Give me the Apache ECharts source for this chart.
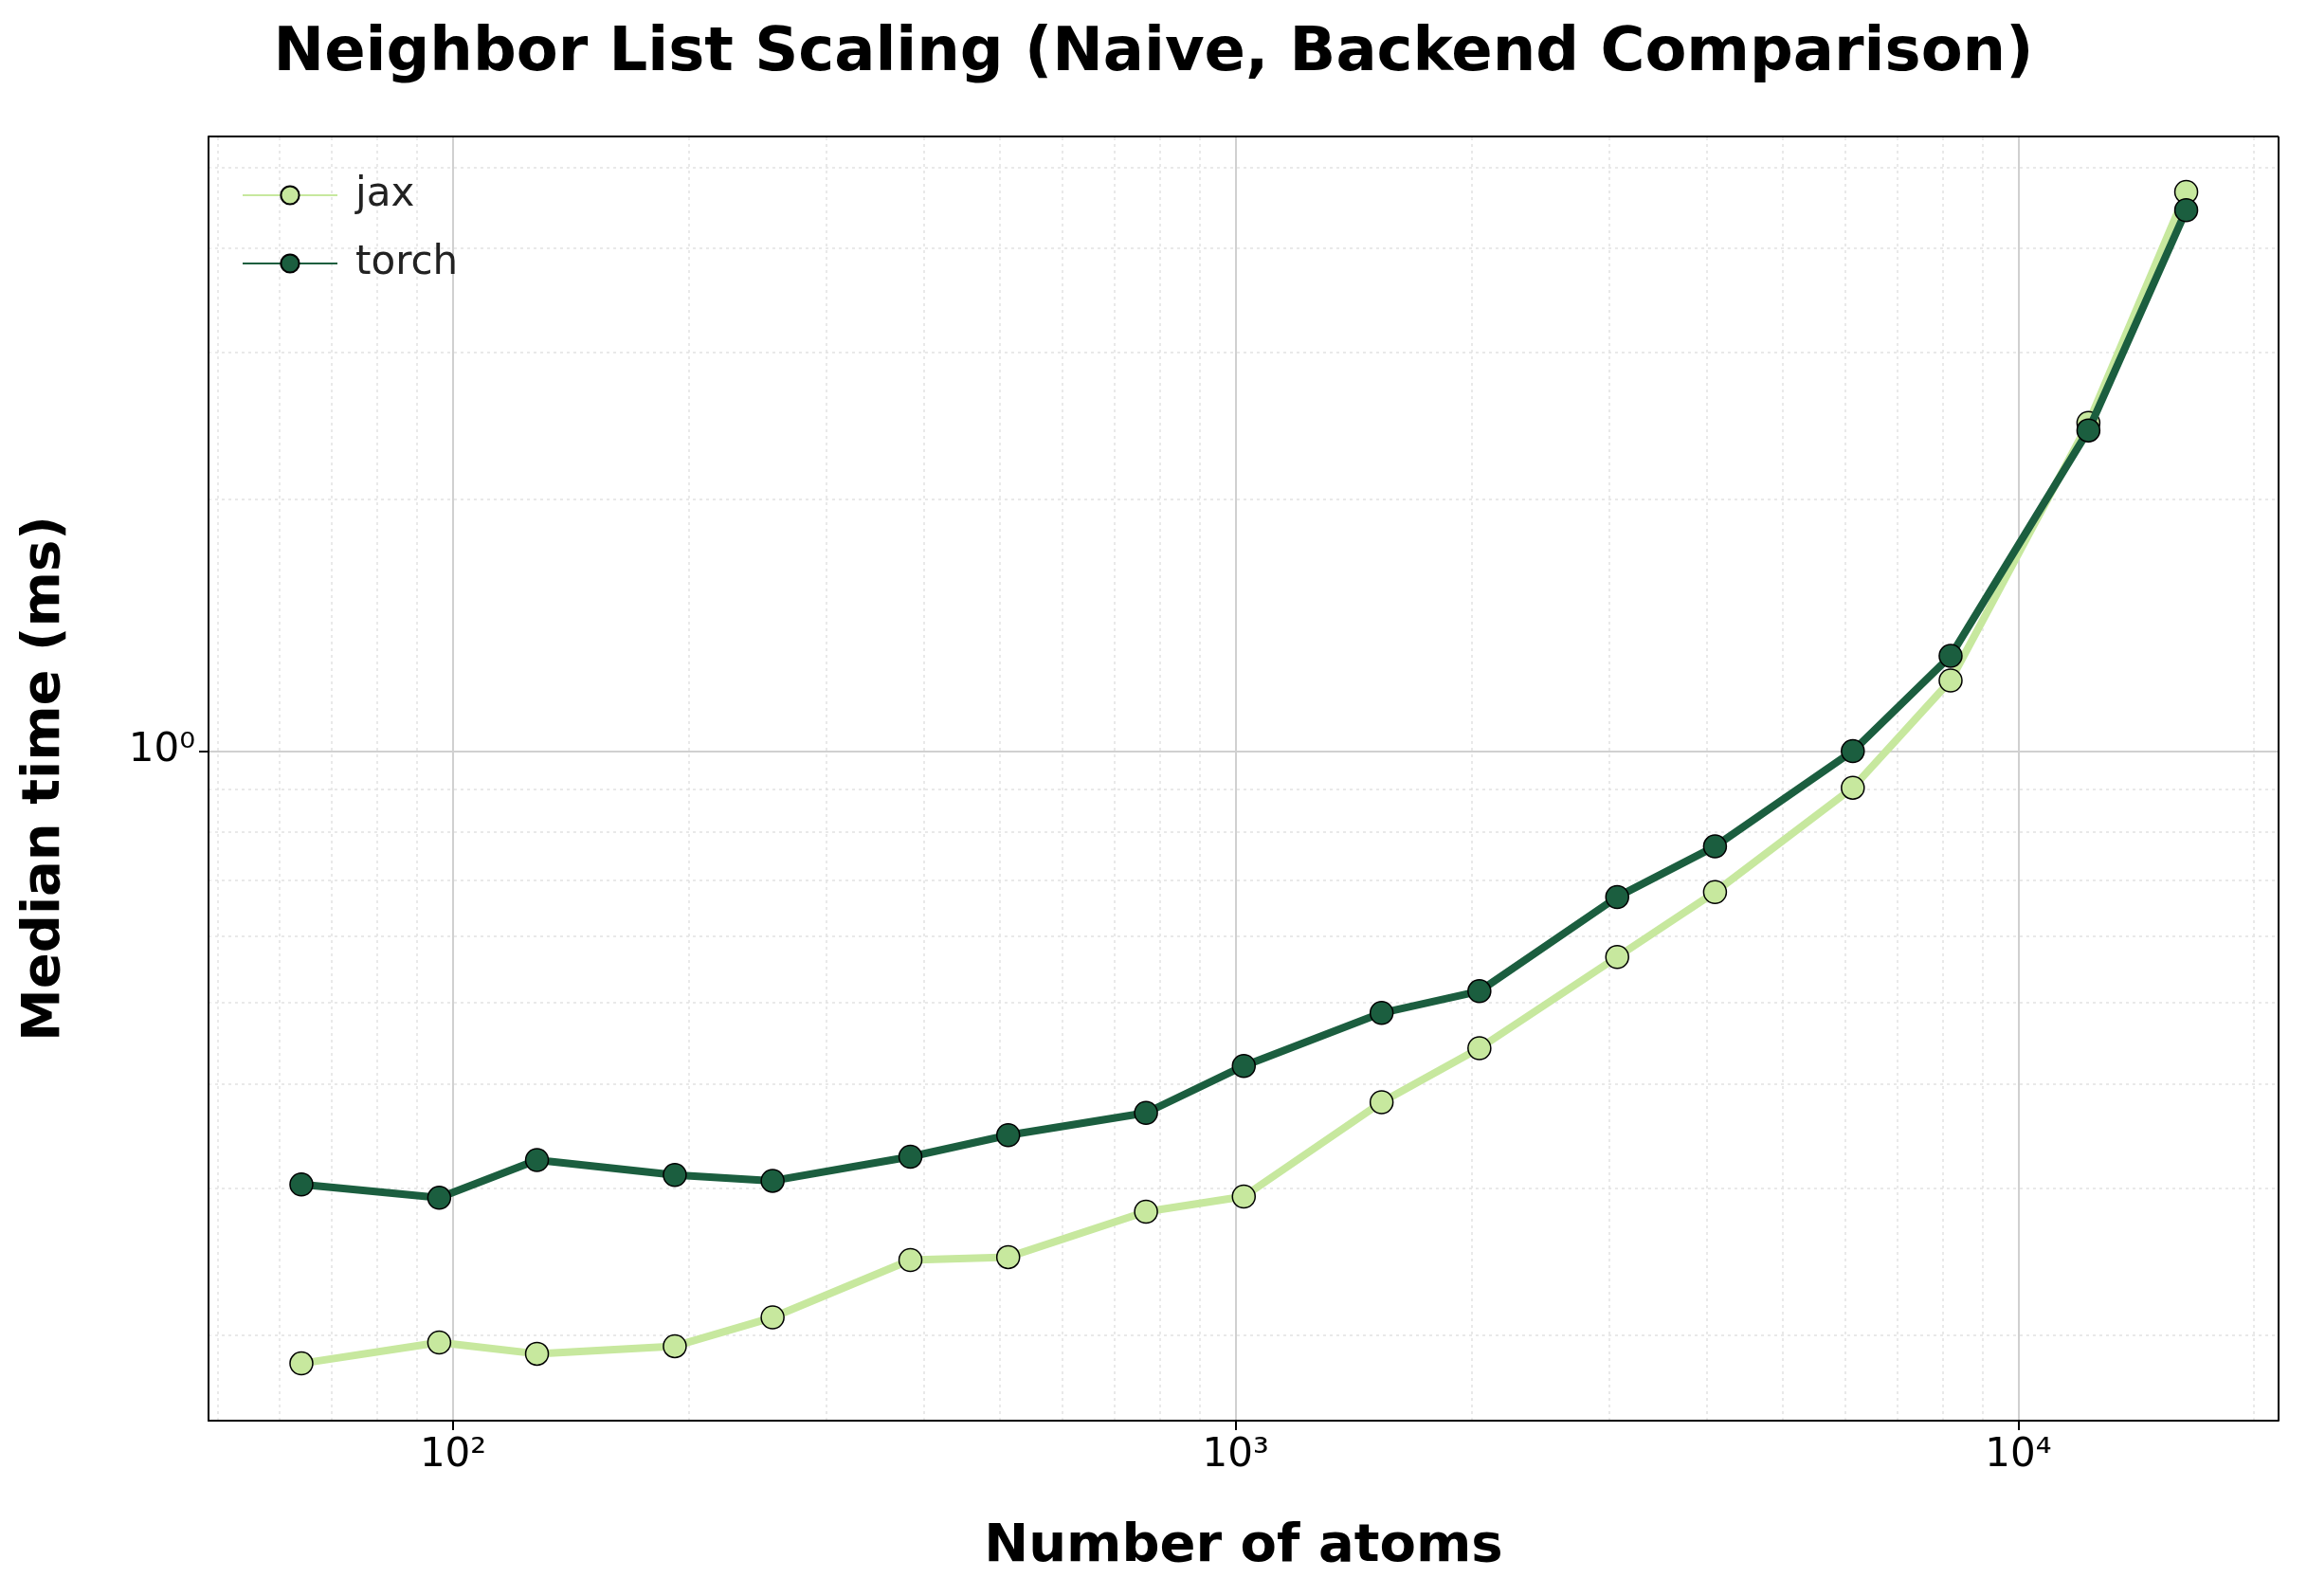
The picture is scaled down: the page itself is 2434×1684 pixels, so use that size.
<!DOCTYPE html>
<html>
<head>
<meta charset="utf-8">
<script src="https://cdn.jsdelivr.net/npm/echarts@6/dist/echarts.min.js"></script>
<style>html,body{margin:0;background:#fff}#main{width:2434px;height:1684px}</style>
</head>
<body>
<div id="main"></div>
<script>
// number of atoms
const atoms = [64, 96, 128, 192, 256, 384, 512, 768, 1024, 1536, 2048, 3072, 4096, 6144, 8192, 12288, 16384];
// median time (ms)
const jaxTimes = [0.185, 0.196, 0.190, 0.194, 0.210, 0.246, 0.248, 0.281, 0.293, 0.380, 0.441, 0.567, 0.678, 0.904, 1.215, 2.47, 4.67];
const torchTimes = [0.303, 0.292, 0.324, 0.311, 0.306, 0.327, 0.347, 0.369, 0.420, 0.486, 0.516, 0.669, 0.769, 1.0, 1.30, 2.42, 4.44];
const xMinor = [50, 60, 70, 80, 90, 200, 300, 400, 500, 600, 700, 800, 900, 2000, 3000, 4000, 5000, 6000, 7000, 8000, 9000, 20000];
const yMinor = [0.2, 0.3, 0.4, 0.5, 0.6, 0.7, 0.8, 0.9, 2, 3, 4, 5];
const xMajor = [100, 1000, 10000];
const yMajor = [1];

const chart = echarts.init(document.getElementById('main'));
const sup = {'0': '⁰', '1': '¹', '2': '²', '3': '³', '4': '⁴', '-': '⁻'};
function powLabel(v) {
  const e = Math.log10(v);
  if (Math.abs(e - Math.round(e)) > 1e-6) return '';
  return '10' + String(Math.round(e)).split('').map(c => sup[c]).join('');
}
const font = 'DejaVu Sans';
const gridLine = (dashed, w, c) => ({ symbol: 'none', silent: true, label: { show: false },
  lineStyle: { color: c, width: w, type: dashed ? [3, 4] : 'solid' } });

chart.setOption({
  backgroundColor: '#fff',
  animation: false,
  title: { text: 'Neighbor List Scaling (Naive, Backend Comparison)', left: 'center', top: 20,
    textStyle: { fontFamily: font, fontWeight: 'bold', fontSize: 64, color: '#000' } },
  grid: { left: 220, right: 30, top: 144, bottom: 185 },
  legend: { left: 250, top: 180, orient: 'vertical', itemGap: 30, itemWidth: 100, itemHeight: 24,
    textStyle: { fontFamily: font, fontSize: 42, color: '#222', padding: [0, 0, 0, 14] },
    data: ['jax', 'torch'] },
  xAxis: {
    type: 'log', logBase: 10, min: 48.7, max: 21500,
    name: 'Number of atoms', nameLocation: 'middle', nameGap: 105,
    nameTextStyle: { fontFamily: font, fontWeight: 'bold', fontSize: 56, color: '#000' },
    axisLine: { onZero: false, lineStyle: { color: '#000', width: 2 } },
    axisTick: { show: true, inside: false, length: 10, lineStyle: { color: '#000', width: 2 } },
    axisLabel: { fontFamily: font, fontSize: 42, color: '#000', margin: 16, formatter: powLabel,
      showMinLabel: false, showMaxLabel: false },
    splitLine: { show: false }
  },
  yAxis: {
    type: 'log', logBase: 10, min: 0.158, max: 5.44,
    name: 'Median time (ms)', nameLocation: 'middle', nameGap: 145,
    nameTextStyle: { fontFamily: font, fontWeight: 'bold', fontSize: 56, color: '#000' },
    axisLine: { onZero: false, lineStyle: { color: '#000', width: 2 } },
    axisTick: { show: true, inside: false, length: 10, lineStyle: { color: '#000', width: 2 } },
    axisLabel: { fontFamily: font, fontSize: 42, color: '#000', margin: 14, formatter: powLabel,
      showMinLabel: false, showMaxLabel: false },
    splitLine: { show: false }
  },
  series: [
    { name: 'grid', type: 'line', data: [], silent: true, z: 0,
      markLine: Object.assign(gridLine(true, 1.5, '#e2e2e2'), { z: 0,
        data: xMinor.map(v => ({ xAxis: v })).concat(yMinor.map(v => ({ yAxis: v }))) }) },
    { name: 'gridMajor', type: 'line', data: [], silent: true, z: 0,
      markLine: Object.assign(gridLine(false, 2, '#d0d0d0'), { z: 0,
        data: xMajor.map(v => ({ xAxis: v })).concat(yMajor.map(v => ({ yAxis: v }))) }) },
    { name: 'frame', type: 'line', data: [], silent: true, z: 0,
      markLine: Object.assign(gridLine(false, 2, '#000'), { z: 0,
        data: [{ xAxis: 21500 }, { yAxis: 5.44 }] }) },
    { name: 'jax', type: 'line', data: atoms.map((a, i) => [a, jaxTimes[i]]),
      symbol: 'circle', symbolSize: 24, z: 3,
      lineStyle: { color: '#c7e89e', width: 8 },
      itemStyle: { color: '#c7e89e', borderColor: '#000', borderWidth: 1.5 } },
    { name: 'torch', type: 'line', data: atoms.map((a, i) => [a, torchTimes[i]]),
      symbol: 'circle', symbolSize: 24, z: 4,
      lineStyle: { color: '#1b5e3f', width: 8 },
      itemStyle: { color: '#1b5e3f', borderColor: '#000', borderWidth: 1.5 } }
  ]
});
</script>
</body>
</html>
